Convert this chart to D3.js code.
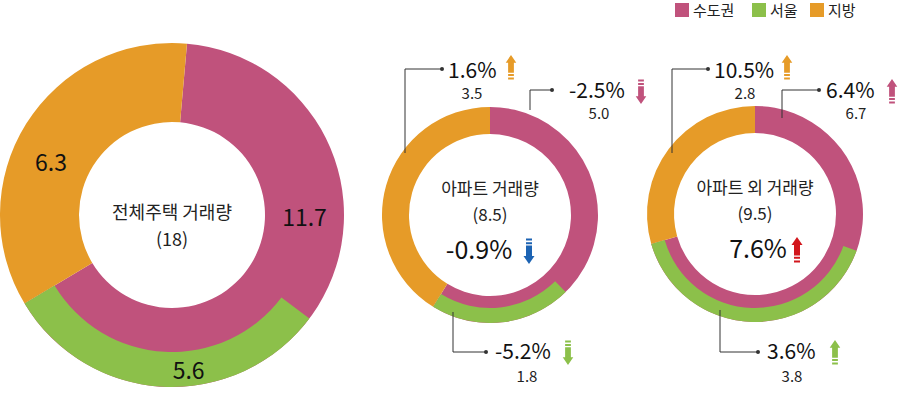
<!DOCTYPE html>
<html><head><meta charset="utf-8">
<script src="https://cdn.jsdelivr.net/npm/d3@7"></script>
<style>
html,body{margin:0;padding:0;background:#fff;}
svg{display:block;font-family:"Noto Sans CJK KR","Noto Sans",sans-serif;}
</style></head>
<body>
<svg id="chart" width="900" height="401"></svg>
<script>
// ---- data ----
const donutNames = ["전체주택 거래량", "아파트 거래량", "아파트 외 거래량"];
const totals = [18, 8.5, 9.5];
const capital = [11.7, 5.0, 6.7];
const seoul = [5.6, 1.8, 3.8];
const local = [6.3, 3.5, 2.8];
const totalChange = [null, -0.9, 7.6];
const capitalChange = [null, -2.5, 6.4];
const seoulChange = [null, -5.2, 3.6];
const localChange = [null, 1.6, 10.5];
const legendLabels = ["수도권", "서울", "지방"];

// ---- styles / layout ----
const colors = {capital: "#c0527c", seoul: "#8cc04a", local: "#e69b28", up: "#d2161c", down: "#1c63b3"};
const legendColors = [colors.capital, colors.seoul, colors.local];
const layout = [
  {cx: 172, cy: 215, R: 172, r: 93, split: 137, rot: 5},
  {cx: 490, cy: 215, R: 108, r: 81, split: 93, rot: 0},
  {cx: 755, cy: 214, R: 108, r: 81, split: 94, rot: 0}
];
const svg = d3.select("#chart");
const fmtPct = v => d3.format(".1f")(v).replace("\u2212", "-") + "%";
const fmt1 = v => d3.format(".1f")(v).replace("\u2212", "-");

function arrow(g, x, top, dir, color, h) {
  h = h || 26;
  const s = h / 26;
  const parts = [];
  if (dir === "up") {
    parts.push(`M${x},${top} L${x + 5.5 * s},${top + 8 * s} L${x - 5.5 * s},${top + 8 * s} Z`);
    parts.push(`M${x - 3 * s},${top + 8 * s} h${6 * s} v${10.5 * s} h${-6 * s} Z`);
    parts.push(`M${x - 3 * s},${top + 19.8 * s} h${6 * s} v${2 * s} h${-6 * s} Z`);
    parts.push(`M${x - 3 * s},${top + 23.4 * s} h${6 * s} v${2 * s} h${-6 * s} Z`);
  } else {
    const b = top + h;
    parts.push(`M${x},${b} L${x + 5.5 * s},${b - 8 * s} L${x - 5.5 * s},${b - 8 * s} Z`);
    parts.push(`M${x - 3 * s},${b - 8 * s} h${6 * s} v${-10.5 * s} h${-6 * s} Z`);
    parts.push(`M${x - 3 * s},${b - 19.8 * s} h${6 * s} v${-2 * s} h${-6 * s} Z`);
    parts.push(`M${x - 3 * s},${b - 23.4 * s} h${6 * s} v${-2 * s} h${-6 * s} Z`);
  }
  g.append("path").attr("d", parts.join(" ")).attr("fill", color);
}

layout.forEach((L, i) => {
  const g = svg.append("g").attr("transform", `translate(${L.cx},${L.cy})`);
  const rot = L.rot * Math.PI / 180;
  const ang = d3.scaleLinear().domain([0, totals[i]]).range([rot, rot + 2 * Math.PI]);
  const pie = d3.pie().sort(null).value(d => d.v).startAngle(rot).endAngle(rot + 2 * Math.PI);
  const slices = pie([{k: "capital", v: capital[i]}, {k: "local", v: local[i]}]);
  const arcFull = d3.arc().innerRadius(L.r).outerRadius(L.R);
  g.selectAll("path.slice").data(slices).enter().append("path")
    .attr("class", "slice").attr("d", arcFull).attr("fill", d => colors[d.data.k]);
  const sArc = {startAngle: ang(capital[i] - seoul[i]), endAngle: ang(capital[i])};
  const arcSeoul = d3.arc().innerRadius(L.split).outerRadius(L.R);
  g.append("path").attr("d", arcSeoul(sArc)).attr("fill", colors.seoul);

  if (i === 0) {
    const mid = (L.r + L.R) / 2;
    const lab = (a, rr, txt) => {
      g.append("text").attr("x", rr * Math.sin(a)).attr("y", -rr * Math.cos(a))
        .attr("text-anchor", "middle").attr("dominant-baseline", "central")
        .attr("font-size", 23).attr("fill", "#111").text(txt);
    };
    lab(ang(capital[i] * 0.365), mid, fmt1(capital[i]));
    lab((ang(capital[i]) + ang(totals[i])) / 2 - 0.14, mid, fmt1(local[i]));
    lab((sArc.startAngle + sArc.endAngle) / 2 - 0.16, (L.split + L.R) / 2, fmt1(seoul[i]));
    g.append("text").attr("x", 0).attr("y", 4).attr("text-anchor", "middle")
      .attr("font-size", 18).attr("fill", "#222").text(donutNames[i]);
    g.append("text").attr("x", 0).attr("y", 31).attr("text-anchor", "middle")
      .attr("font-size", 18).attr("fill", "#222").text(`(${totals[i]})`);
  } else {
    g.append("text").attr("x", 0).attr("y", -20).attr("text-anchor", "middle")
      .attr("font-size", 17).attr("fill", "#222").text(donutNames[i]);
    g.append("text").attr("x", 0).attr("y", 6).attr("text-anchor", "middle")
      .attr("font-size", 17).attr("fill", "#222").text(`(${fmt1(totals[i])})`);
    const tc = totalChange[i];
    g.append("text").attr("x", i === 1 ? -11 : 3).attr("y", 44).attr("text-anchor", "middle")
      .attr("font-size", 25).attr("fill", "#111").text(fmtPct(tc));
    arrow(g, i === 1 ? 39 : 42, 23, tc >= 0 ? "up" : "down", tc >= 0 ? colors.up : colors.down, 26);
  }
});

// ---- annotations for donut 2 and 3 ----
function annotate(i, change, value, color, pts, tx, ty, subx, suby, ax, ay) {
  const L = layout[i];
  const g = svg.append("g").attr("transform", `translate(${L.cx},0)`);
  g.append("path").attr("d", d3.line()(pts)).attr("fill", "none").attr("stroke", "#333").attr("stroke-width", 1);
  const end = pts[pts.length - 1];
  g.append("circle").attr("cx", end[0]).attr("cy", end[1]).attr("r", 2).attr("fill", "#333");
  g.append("text").attr("x", tx).attr("y", ty).attr("font-size", 21).attr("fill", "#111").text(fmtPct(change));
  g.append("text").attr("x", subx).attr("y", suby).attr("text-anchor", "middle").attr("font-size", 15).attr("fill", "#222").text(fmt1(value));
  arrow(g, ax, ay, change >= 0 ? "up" : "down", color, 25);
}
// donut 2 (아파트)
annotate(1, localChange[1], local[1], colors.local, [[-85, 153], [-85, 69], [-48, 69]], -42, 78, -18, 99, 21, 55);
annotate(1, capitalChange[1], capital[1], colors.capital, [[40, 110], [40, 90], [62, 90]], 79, 98, 109, 119, 151, 79);
annotate(1, seoulChange[1], seoul[1], colors.seoul, [[-37, 312], [-37, 352], [-4, 352]], 5, 359, 37, 382, 78, 340);
// donut 3 (아파트 외)
annotate(2, localChange[2], local[2], colors.local, [[-83, 153], [-83, 69], [-47, 69]], -41, 78, -10, 99, 32, 55);
annotate(2, capitalChange[2], capital[2], colors.capital, [[27, 118], [27, 90], [64, 90]], 71, 98, 101, 119, 137, 79);
annotate(2, seoulChange[2], seoul[2], colors.seoul, [[-35, 310], [-35, 352], [3, 352]], 12, 359, 37, 382, 80, 340);

// ---- legend ----
const lx = [675, 752, 810];
const lg = svg.append("g");
legendLabels.forEach((t, k) => {
  lg.append("rect").attr("x", lx[k]).attr("y", 3).attr("width", 14).attr("height", 14).attr("fill", legendColors[k]);
  lg.append("text").attr("x", lx[k] + 18).attr("y", 16).attr("font-size", 15).attr("fill", "#222").text(t);
});
</script>
</body></html>
